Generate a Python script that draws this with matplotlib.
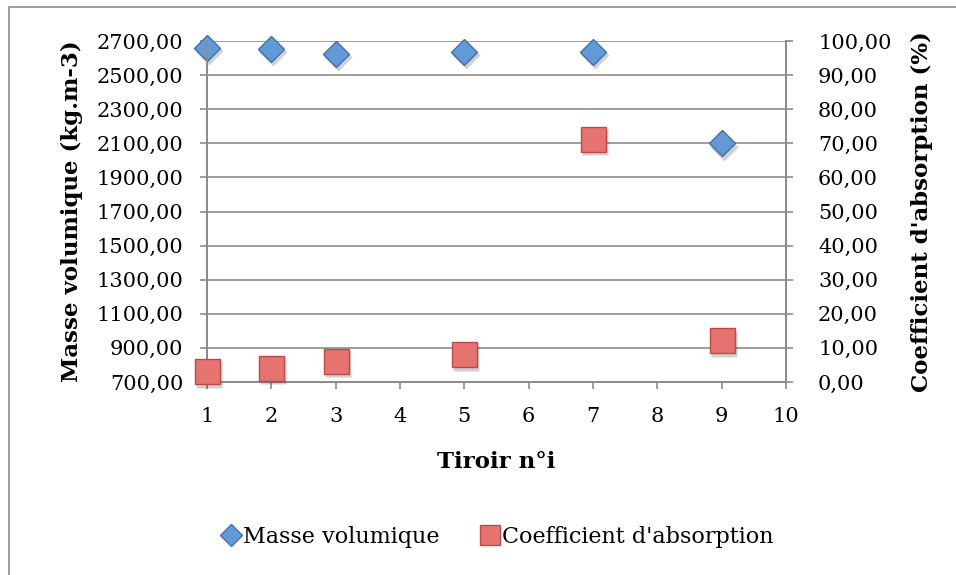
import matplotlib
matplotlib.use("Agg")
import matplotlib.pyplot as plt
from matplotlib.lines import Line2D
from matplotlib.patches import Rectangle
from matplotlib.transforms import offset_copy

# x categories (Tiroir n°i)
tiroirs = [1, 2, 3, 4, 5, 6, 7, 8, 9, 10]
# measured drawers
x_masse = [1, 2, 3, 5, 7, 9]
masse_vol = [2660, 2655, 2625, 2637, 2637, 2100]
x_coef = [1, 2, 3, 5, 7, 9]
coef_abs = [3.2, 4.1, 6.2, 8.2, 71.3, 12.3]

left_ticks = list(range(700, 2701, 200))
right_ticks = list(range(0, 101, 10))

FONT = "DejaVu Serif"
plt.rcParams["font.family"] = FONT

W, H = 956, 575
fig = plt.figure(figsize=(W / 100, H / 100), dpi=100)

# outer chart frame (Excel style)
fig.patches.append(Rectangle((9 / W, -0.1), 1.2, 1 - 7 / H + 0.1, transform=fig.transFigure,
                             fill=False, edgecolor="#8c8c8c", linewidth=1.2))

ax = fig.add_axes([207 / W, 1 - 382 / H, (786 - 207) / W, (382 - 41) / H])
ax2 = ax.twinx()

grid_c = "#8c8c8c"
ax.set_xlim(1, 10)
ax.set_ylim(700, 2700)
ax2.set_ylim(0, 100)
ax.set_xticks(tiroirs)
ax.set_yticks(left_ticks)
ax2.set_yticks(right_ticks)
ax.set_xticklabels([str(t) for t in tiroirs])
ax.set_yticklabels([f"{v:.2f}".replace(".", ",") for v in left_ticks])
ax2.set_yticklabels([f"{v:.2f}".replace(".", ",") for v in right_ticks])

ax.grid(axis="y", color=grid_c, linewidth=1.2)
ax.set_axisbelow(True)
for a in (ax, ax2):
    a.spines["top"].set_visible(False)
    for s in ("left", "right", "bottom"):
        a.spines[s].set_color(grid_c)
        a.spines[s].set_linewidth(1.4)
    a.tick_params(colors=grid_c, labelcolor="black", labelsize=15, length=5, width=1.2, pad=12)
ax.tick_params(axis="x", pad=13)
ax2.tick_params(axis="y", pad=18)


def draw(axis, xs, ys, marker, ms, face, edge):
    # soft drop shadow, then the marker itself
    sh = offset_copy(axis.transData, fig=fig, x=1.5, y=-2.5, units="points")
    axis.plot(xs, ys, linestyle="none", marker=marker, markersize=ms + 1,
              markerfacecolor="#000000", markeredgecolor="none", alpha=0.18,
              transform=sh, clip_on=False, zorder=4)
    axis.plot(xs, ys, linestyle="none", marker=marker, markersize=ms,
              markerfacecolor=face, markeredgecolor=edge, markeredgewidth=1.0,
              clip_on=False, zorder=5)


draw(ax, x_masse, masse_vol, "D", 13.5, "#629ad8", "#3f70ad")
draw(ax2, x_coef, coef_abs, "s", 18, "#e6736f", "#bc4b48")

ax.set_ylabel("Masse volumique (kg.m-3)", fontsize=16.5, fontweight="bold", labelpad=10)
ax2.set_ylabel("Coefficient d'absorption (%)", fontsize=16.5, fontweight="bold", labelpad=14)
ax.set_xlabel("Tiroir n°i", fontsize=16.5, fontweight="bold", labelpad=18)

handles = [
    Line2D([], [], linestyle="none", marker="D", markersize=11,
           markerfacecolor="#629ad8", markeredgecolor="#3f70ad"),
    Line2D([], [], linestyle="none", marker="s", markersize=15,
           markerfacecolor="#e6736f", markeredgecolor="#bc4b48"),
]
fig.legend(handles, ["Masse volumique", "Coefficient d'absorption"],
           loc="center", bbox_to_anchor=(497 / W, 1 - 537 / H), ncol=2,
           frameon=False, fontsize=16, handletextpad=0.1, columnspacing=1.8,
           handlelength=0.9)

fig.savefig("out.png", dpi=100)
